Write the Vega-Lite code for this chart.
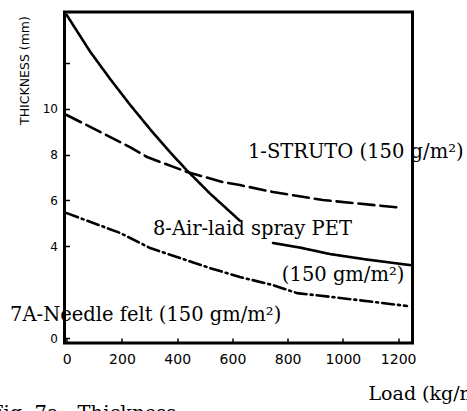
{
  "$schema": "https://vega.github.io/schema/vega-lite/v6.json",
  "width": 348,
  "height": 331,
  "autosize": {"type": "none"},
  "padding": {"left": 64.5, "top": 12, "right": 54.5, "bottom": 68},
  "background": "white",
  "config": {"view": {"stroke": "black", "strokeWidth": 3}, "font": "DejaVu Sans"},
  "datasets": {
    "curves": [
      {"series": "air-laid", "segment": "a", "load": 0, "thickness": 14.07},
      {"series": "air-laid", "segment": "a", "load": 84, "thickness": 12.49},
      {"series": "air-laid", "segment": "a", "load": 157, "thickness": 11.29},
      {"series": "air-laid", "segment": "a", "load": 229, "thickness": 10.17},
      {"series": "air-laid", "segment": "a", "load": 302, "thickness": 9.1},
      {"series": "air-laid", "segment": "a", "load": 374, "thickness": 8.1},
      {"series": "air-laid", "segment": "a", "load": 436, "thickness": 7.3},
      {"series": "air-laid", "segment": "a", "load": 519, "thickness": 6.3},
      {"series": "air-laid", "segment": "a", "load": 627, "thickness": 5.12},
      {"series": "air-laid", "segment": "b", "load": 747, "thickness": 4.15},
      {"series": "air-laid", "segment": "b", "load": 845, "thickness": 3.95},
      {"series": "air-laid", "segment": "b", "load": 953, "thickness": 3.67},
      {"series": "air-laid", "segment": "b", "load": 1087, "thickness": 3.43},
      {"series": "air-laid", "segment": "b", "load": 1243, "thickness": 3.19},
      {"series": "struto", "segment": "a", "load": 0, "thickness": 9.72},
      {"series": "struto", "segment": "a", "load": 229, "thickness": 8.32},
      {"series": "struto", "segment": "a", "load": 291, "thickness": 7.89},
      {"series": "struto", "segment": "a", "load": 436, "thickness": 7.24},
      {"series": "struto", "segment": "a", "load": 566, "thickness": 6.8},
      {"series": "struto", "segment": "a", "load": 627, "thickness": 6.67},
      {"series": "struto", "segment": "a", "load": 747, "thickness": 6.37},
      {"series": "struto", "segment": "a", "load": 928, "thickness": 6.02},
      {"series": "struto", "segment": "a", "load": 1207, "thickness": 5.69},
      {"series": "needle", "segment": "a", "load": 0, "thickness": 5.45},
      {"series": "needle", "segment": "a", "load": 193, "thickness": 4.59},
      {"series": "needle", "segment": "a", "load": 302, "thickness": 3.93},
      {"series": "needle", "segment": "a", "load": 519, "thickness": 3.06},
      {"series": "needle", "segment": "a", "load": 627, "thickness": 2.67},
      {"series": "needle", "segment": "a", "load": 747, "thickness": 2.32},
      {"series": "needle", "segment": "a", "load": 834, "thickness": 1.97},
      {"series": "needle", "segment": "a", "load": 990, "thickness": 1.76},
      {"series": "needle", "segment": "a", "load": 1232, "thickness": 1.41}
    ],
    "labels": [
      {"label": "1-STRUTO (150 g/m²)", "load": 656, "thickness": 8.11},
      {"label": "8-Air-laid spray PET", "load": 312, "thickness": 4.76},
      {"label": "(150 gm/m²)", "load": 779, "thickness": 2.76},
      {"label": "7A-Needle felt  (150 gm/m²)", "load": -205, "thickness": 1.02},
      {"label": "Fig. 7a - Thickness", "load": -278, "thickness": -3.3}
    ]
  },
  "layer": [
    {
      "data": {"name": "curves"},
      "mark": {"type": "line", "color": "black", "strokeWidth": 2.6, "strokeCap": "round", "strokeJoin": "round"},
      "encoding": {
        "x": {
          "field": "load", "type": "quantitative",
          "scale": {"domain": [-8, 1252], "nice": false, "zero": false},
          "axis": {
            "values": [0, 200, 400, 600, 800, 1000, 1200],
            "format": "d",
            "tickSize": -5, "tickColor": "black", "tickWidth": 1.5,
            "domain": false, "grid": false,
            "labelFont": "DejaVu Sans", "labelFontSize": 14, "labelColor": "black",
            "labelPadding": 14, "labelDx": 5,
            "title": "Load (kg/m²)", "titleFont": "DejaVu Serif", "titleFontSize": 19,
            "titleFontWeight": "normal", "titleColor": "black",
            "titleX": 303.5, "titleY": 50, "titleAlign": "left", "titleBaseline": "middle"
          }
        },
        "y": {
          "field": "thickness", "type": "quantitative",
          "scale": {"domain": [-0.2, 14.2], "nice": false, "zero": false},
          "axis": {
            "values": [0, 4, 6, 8, 10, 12],
            "labelExpr": "datum.value == 12 ? '' : datum.label",
            "tickSize": -5, "tickColor": "black", "tickWidth": 1.5,
            "domain": false, "grid": false,
            "labelFont": "DejaVu Sans", "labelFontSize": 12, "labelColor": "black",
            "labelPadding": 12,
            "title": "THICKNESS (mm)", "titleFont": "DejaVu Sans", "titleFontSize": 12.5,
            "titleFontWeight": "normal", "titleColor": "black",
            "titleX": -40, "titleY": 58, "titleAngle": -90,
            "titleAlign": "center", "titleBaseline": "middle"
          }
        },
        "strokeDash": {
          "field": "series", "type": "nominal",
          "scale": {"domain": ["air-laid", "struto", "needle"], "range": [[1, 0], [16, 6], [12, 4, 2, 4]]},
          "legend": null
        },
        "detail": {"field": "segment", "type": "nominal"}
      }
    },
    {
      "data": {"name": "labels"},
      "mark": {"type": "text", "align": "left", "baseline": "middle", "font": "DejaVu Serif", "fontSize": 19.5, "color": "black"},
      "encoding": {
        "x": {"field": "load", "type": "quantitative"},
        "y": {"field": "thickness", "type": "quantitative"},
        "text": {"field": "label"}
      }
    }
  ]
}
